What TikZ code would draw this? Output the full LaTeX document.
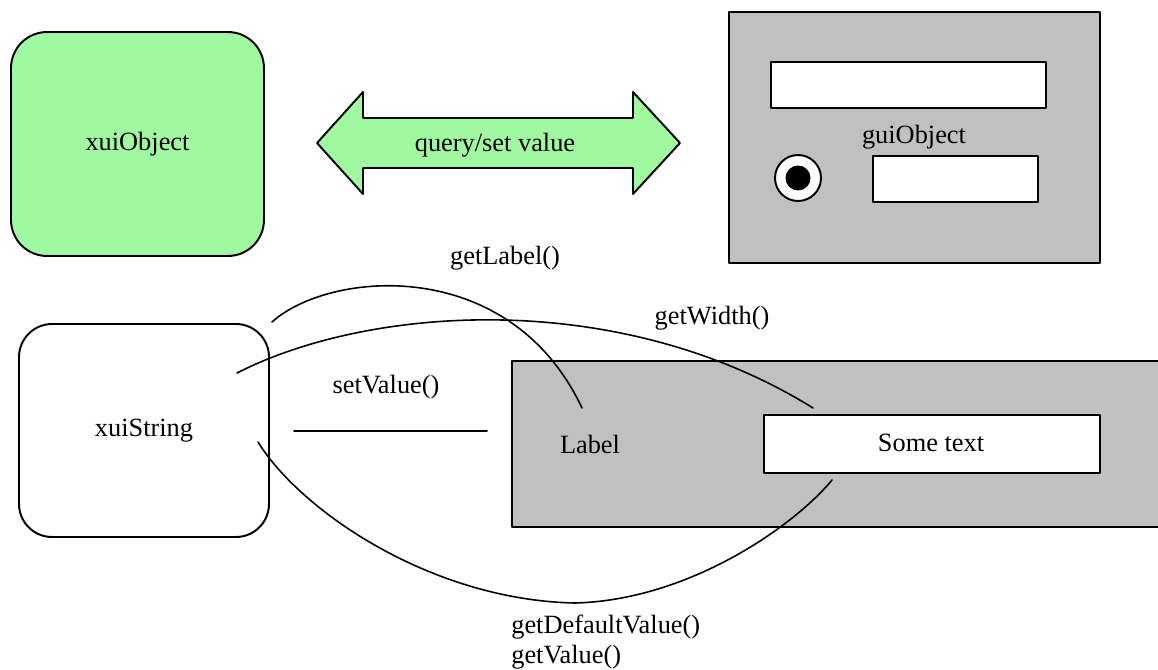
\documentclass[tikz,border=0pt]{standalone}
\usepackage{fontspec}
\setmainfont{Liberation Serif}
\usetikzlibrary{positioning}
\definecolor{xuigreen}{RGB}{160,248,160}
\definecolor{guigray}{RGB}{192,192,192}
\begin{document}
\begin{tikzpicture}[x=0.02cm,y=-0.02cm,line cap=round,line join=round,font=\fontsize{15}{17}\selectfont,
		xuibox/.style={draw=black,line width=1.1pt,inner sep=0pt},
		panel/.style={draw=black,line width=1.1pt,fill=guigray,anchor=north west,inner sep=0pt},
		field/.style={draw=black,line width=1.1pt,fill=white,anchor=north west,inner sep=0pt},
		call/.style={draw=black,line width=0.9pt}]
	\useasboundingbox (0,0) rectangle (1158,669);
	\node[xuibox,fill=xuigreen,rounded corners=0.72cm,minimum width=5.06cm,minimum height=4.48cm] (xuiObject) at (137.5,144) {xuiObject};
	\draw[line width=1.1pt,fill=xuigreen] (317,143) -- (363,92) -- (363,118) -- (633,118) -- (633,92) -- (680,143) -- (633,194) -- (633,168) -- (363,168) -- (363,194) -- cycle;
	\node (query) at (495,145) {query/set value};
	\node[panel,minimum width=7.42cm,minimum height=5.02cm] (guiPanel) at (728,11) {};
	\node[field,minimum width=5.5cm,minimum height=0.92cm] (guiField) at (770,61) {};
	\node[field,minimum width=3.3cm,minimum height=0.92cm] (guiSmall) at (872,155) {};
	\node (guiObject) at (914,137) {guiObject};
	\node[circle,draw=black,line width=1.1pt,fill=white,minimum size=0.92cm,inner sep=0pt] (radio) at (798,178) {};
	\node[circle,fill=black,minimum size=0.5cm,inner sep=0pt] (radioDot) at (radio.center) {};
	\node[xuibox,fill=white,rounded corners=0.66cm,minimum width=5cm,minimum height=4.26cm] (xuiString) at (144,430.5) {xuiString};
	\node[panel,minimum width=13.1cm,minimum height=3.32cm] (strPanel) at (511,360) {};
	\node[field,minimum width=6.72cm,minimum height=1.16cm] (strField) at (763,414) {};
	\node (someText) at (931,443) {Some text};
	\node (label) at (590,444) {Label};
	\node (getLabel) at (505,258) {getLabel()};
	\node (getWidth) at (712,318) {getWidth()};
	\node (setValue) at (386,387) {setValue()};
	\node[anchor=west,align=left,inner sep=0pt] (getValue) at (511,642) {getDefaultValue()\\getValue()};
	\coordinate (lblFrom) at (272,322);
	\coordinate (lblTo) at (582,408);
	\coordinate (widFrom) at (237,373);
	\coordinate (widTo) at (813,408);
	\coordinate (valFrom) at (258,442);
	\coordinate (valLow) at (575,603);
	\coordinate (valTo) at (832,480);
	\coordinate (setFrom) at (294,431);
	\coordinate (setTo) at (487,431);
	\draw[call] (lblFrom) .. controls (330,270) and (510,255) .. (lblTo);
	\draw[call] (widFrom) .. controls (370,305) and (620,288) .. (widTo);
	\draw[call] (valFrom) .. controls (300,510) and (430,600) .. (valLow) .. controls (690,600) and (795,525) .. (valTo);
	\draw[call,line width=1.1pt] (setFrom) -- (setTo);
\end{tikzpicture}
\end{document}
